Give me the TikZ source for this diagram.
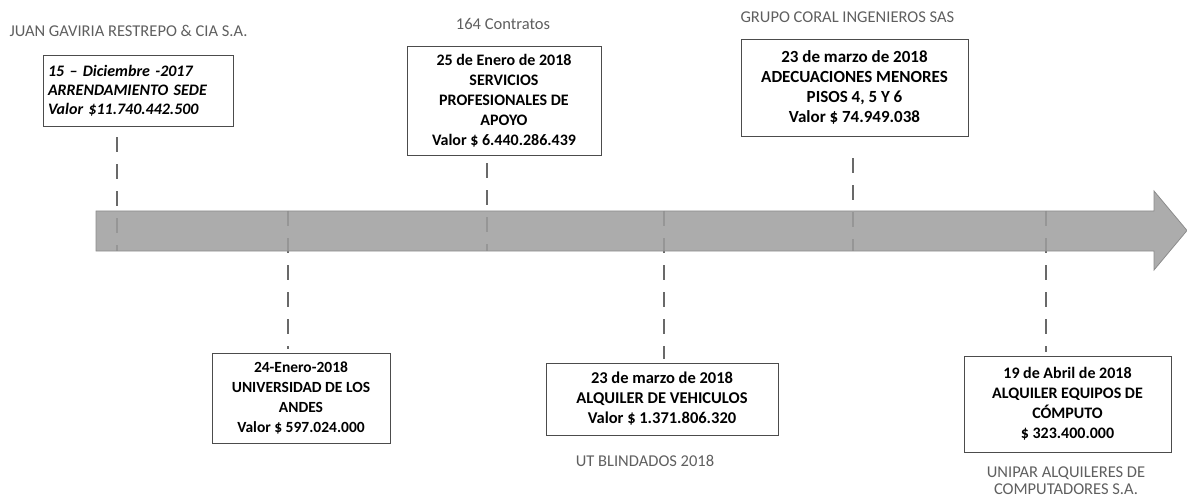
\documentclass[tikz,border=0pt]{standalone}
\usepackage{fontspec}
\setmainfont{Carlito}
\usetikzlibrary{positioning,calc}
\definecolor{linegray}{RGB}{105,105,105}
\definecolor{arrowgray}{RGB}{158,158,158}
\definecolor{labelgray}{RGB}{95,95,95}

\begin{document}
\begin{tikzpicture}[
    x=1pt, y=-1pt,
    event/.style={rectangle, draw=black!70, line width=0.9pt, fill=white, align=center, inner sep=2pt, font=\bfseries\fontsize{#1}{20}\selectfont},
    event/.default=16,
    firm/.style={text=labelgray, align=center, font=\fontsize{16.5}{17}\selectfont},
    link/.style={draw=linegray, line width=2.6pt, dash pattern=on 15pt off 12pt}
]
    \useasboundingbox (0,0) rectangle (1187,500);

    % points on the time line
    \coordinate (t1) at (117,231);
    \coordinate (t2) at (288,231);
    \coordinate (t3) at (487,231);
    \coordinate (t4) at (664,231);
    \coordinate (t5) at (853,231);
    \coordinate (t6) at (1046,231);

    % events above the line
    \node[event, minimum width=190pt, minimum height=71pt, text width=180pt, align=left, font=\bfseries\itshape\fontsize{16}{19}\selectfont] (sede) at (138,90.5)
        {15 – Diciembre -2017\\ARRENDAMIENTO SEDE\\Valor \$11.740.442.500};
    \node[event, minimum width=194pt, minimum height=109pt] (apoyo) at (504,100.5)
        {25 de Enero de 2018\\SERVICIOS\\PROFESIONALES DE\\APOYO\\Valor \$ 6.440.286.439};
    \node[event=17, minimum width=227pt, minimum height=97pt] (pisos) at (854.5,87.5)
        {23 de marzo de 2018\\ADECUACIONES MENORES\\PISOS 4, 5 Y 6\\Valor \$ 74.949.038};

    % events below the line
    \node[event=15.5, minimum width=178pt, minimum height=90pt] (andes) at (301,398)
        {24-Enero-2018\\UNIVERSIDAD DE LOS\\ANDES\\Valor \$ 597.024.000};
    \node[event=16.5, minimum width=232pt, minimum height=72pt] (vehic) at (662,399)
        {23 de marzo de 2018\\ALQUILER DE VEHICULOS\\Valor \$ 1.371.806.320};
    \node[event, minimum width=207pt, minimum height=96pt] (computo) at (1067.5,404)
        {19 de Abril de 2018\\ALQUILER EQUIPOS DE\\CÓMPUTO\\\$ 323.400.000};

    % contractors
    \node[firm, anchor=west] (juan) at (6,31) {JUAN GAVIRIA RESTREPO \& CIA S.A.};
    \node[firm] (contratos) at (503,24) {164 Contratos};
    \node[firm, anchor=west] (coral) at (737,17) {GRUPO CORAL INGENIEROS SAS};
    \node[firm] (blindados) at (645,461) {UT BLINDADOS 2018};
    \node[firm] (unipar) at (1066,481) {UNIPAR ALQUILERES DE\\COMPUTADORES S.A.};

    % dashed ties
    \draw[link] ($(t1 |- sede.south)+(0,11)$) -- ($(t1)+(0,20)$);
    \draw[link] ($(t3 |- apoyo.south)+(0,8)$) -- ($(t3)+(0,20)$);
    \draw[link] ($(t5 |- pisos.south)+(0,22)$) -- ($(t5)+(0,20)$);
    \draw[link] ($(t2)+(0,-20)$) -- ($(t2 |- andes.north)+(0,-4)$);
    \draw[link] ($(t4)+(0,-20)$) -- ($(t4 |- vehic.north)+(0,-4)$);
    \draw[link] ($(t6)+(0,-20)$) -- ($(t6 |- computo.north)+(0,-4)$);

    % time line
    \draw[draw=black!45, fill=arrowgray, fill opacity=0.85, line width=0.8pt]
        (96,211) -- (1154,211) -- (1154,191) -- (1187,230.5) -- (1154,270) -- (1154,251) -- (96,251) -- cycle;
\end{tikzpicture}
\end{document}
